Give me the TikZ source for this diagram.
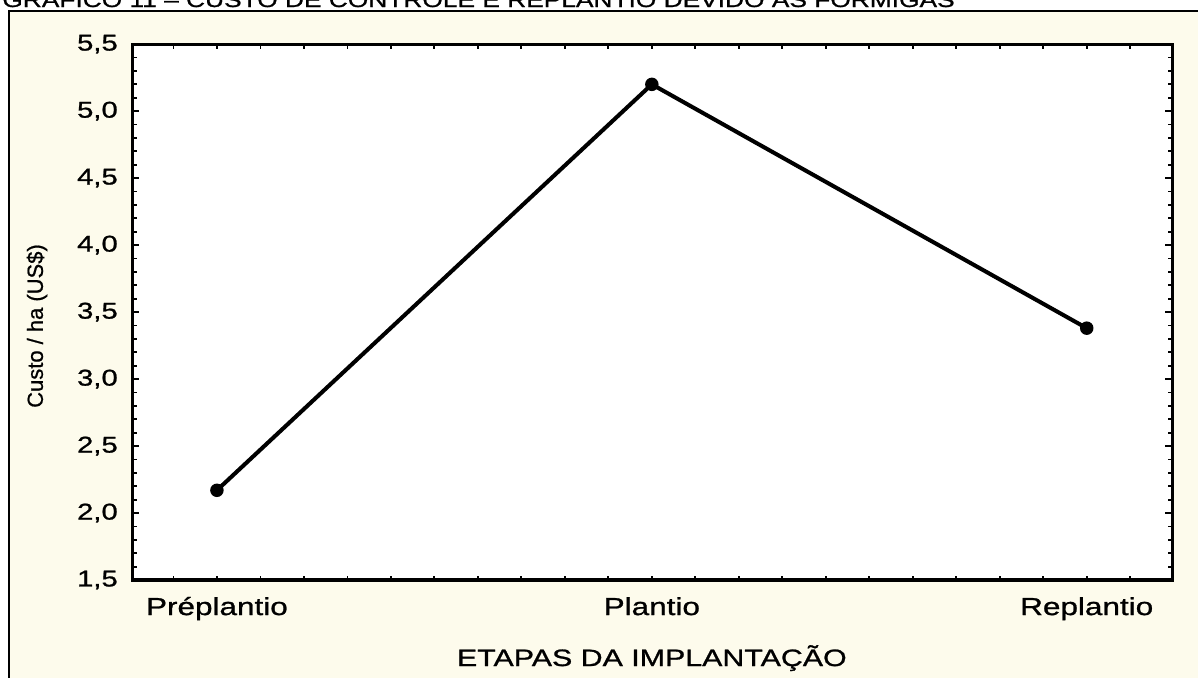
\documentclass[tikz,border=0pt]{standalone}
\usepackage{fontspec}
\usetikzlibrary{positioning}
\newfontfamily\plotfont[FakeStretch=1.28, FakeBold=1]{Liberation Sans}
\newfontfamily\ylabfont[FakeBold=0.8]{Liberation Sans}
\definecolor{paper}{RGB}{253,251,236}
\tikzset{
  ticklab/.style={anchor=east, inner sep=0pt, xshift=-0.28cm, font=\plotfont\fontsize{13}{15}\selectfont},
  catlab/.style={anchor=base, inner sep=0pt, font=\plotfont\fontsize{14}{16}\selectfont},
  datapt/.style={circle, fill=black, inner sep=0pt, minimum size=0.27cm},
  axisline/.style={line width=1.8pt},
  tickline/.style={line width=1pt}
}

\begin{document}
\begin{tikzpicture}[x=0.02cm, y=-0.02cm]
  \useasboundingbox (0,0) rectangle (1198,677);
  \clip (0,0) rectangle (1198,677);
  \fill[white] (0,0) rectangle (1198,677);
  \filldraw[fill=paper, draw=black, line width=1.2pt] (9,11) rectangle (1240,720);

  % title, cut off by the top edge
  \node[anchor=base west, inner sep=0pt, font=\plotfont\fontsize{11.7}{14}\selectfont] (title) at (2,7)
    {GRÁFICO 11 – CUSTO DE CONTROLE E REPLANTIO DEVIDO ÀS FORMIGAS};

  \node[rotate=90, inner sep=0pt, font=\ylabfont\fontsize{12.5}{14}\selectfont] (ylab) at (37,326) {Custo / ha (US\$)};

  \begin{scope}[shift={(-218,781)}, x=8.7cm, y=2.68cm]
    \fill[white] (0.805,1.5) rectangle (3.197,5.5);

    % ticks
    \foreach \k in {15,...,55} {
      \draw[tickline] (0.805,\k/10) -- ++(0.09cm,0);
      \draw[tickline] (3.197,\k/10) -- ++(-0.09cm,0);
    }
    \foreach \k in {15,20,...,55} {
      \draw[tickline] (0.805,\k/10) -- ++(0.14cm,0);
      \draw[tickline] (3.197,\k/10) -- ++(-0.14cm,0);
    }
    \foreach \k in {9,...,31} {
      \draw[tickline] (\k/10,1.5) -- ++(0,0.09cm);
      \draw[tickline] (\k/10,5.5) -- ++(0,-0.09cm);
    }
    \draw[axisline] (0.805,1.5) rectangle (3.197,5.5);

    \foreach \a/\b in {1/5,2/0,2/5,3/0,3/5,4/0,4/5,5/0,5/5}
      \node[ticklab] (t\a\b) at (0.805,\a.\b) {\a,\b};

    \node[catlab, yshift=-0.7cm] (labpre) at (1,1.5) {Préplantio};
    \node[catlab, yshift=-0.7cm] (labpla) at (2,1.5) {Plantio};
    \node[catlab, yshift=-0.7cm] (labrep) at (3,1.5) {Replantio};
    \node[catlab, font=\plotfont\fontsize{13.5}{16}\selectfont, yshift=-1.72cm] (xtitle) at (2,1.5) {ETAPAS DA IMPLANTAÇÃO};

    \node[datapt] (pre) at (1,2.17) {};
    \node[datapt] (pla) at (2,5.20) {};
    \node[datapt] (rep) at (3,3.38) {};
    \draw[line width=2.3pt, line join=round] (pre.center) -- (pla.center) -- (rep.center);
  \end{scope}
\end{tikzpicture}
\end{document}
